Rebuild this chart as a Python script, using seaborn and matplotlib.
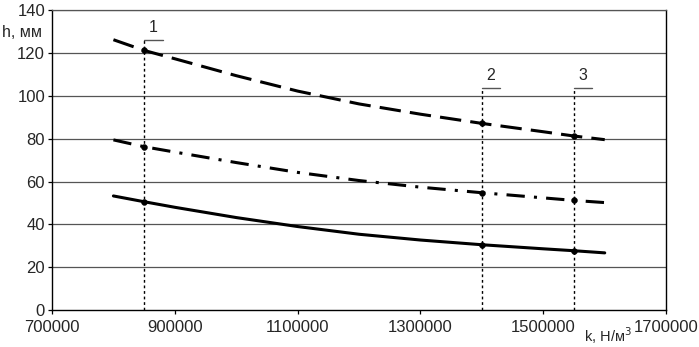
import numpy as np
import pandas as pd
import seaborn as sns
import matplotlib.pyplot as plt

# values
k = [800000, 850000, 900000, 1000000, 1100000, 1200000, 1300000, 1400000, 1500000, 1550000, 1600000]
h_dashed = [126.3, 121.3, 117.4, 109.5, 102.3, 96.3, 91.5, 87.2, 83.3, 81.3, 79.6]
h_dashdot = [79.5, 76.3, 73.8, 68.9, 64.3, 60.5, 57.4, 54.8, 52.4, 51.2, 50.2]
h_solid = [53.3, 50.6, 48.0, 43.2, 39.0, 35.4, 32.7, 30.5, 28.6, 27.7, 26.7]

k_marks = [850000, 1400000, 1550000]
mark_labels = ["1", "2", "3"]
bracket_top = [126, 103.6, 103.6]

x_ticks = [700000, 900000, 1100000, 1300000, 1500000, 1700000]
y_ticks = [0, 20, 40, 60, 80, 100, 120, 140]

sns.set_style("white")
plt.rcParams['font.family'] = ['Liberation Sans', 'DejaVu Sans']
fs = 12

df = pd.DataFrame({'k': k, 'dashed': h_dashed, 'dashdot': h_dashdot, 'solid': h_solid})

fig = plt.figure(figsize=(6.99, 3.47), dpi=100)
ax = fig.add_axes([0.0744, 0.1066, 0.8786, 0.8634])

# horizontal grid
for y in y_ticks[1:]:
    ax.axhline(y, color='#555555', lw=0.9, zorder=1)

sns.lineplot(data=df, x='k', y='dashed', ax=ax, color='black', lw=2.2, zorder=3)
ax.lines[-1].set_dashes([7, 3])
sns.lineplot(data=df, x='k', y='dashdot', ax=ax, color='black', lw=2.2, zorder=3)
ax.lines[-1].set_dashes([6, 3, 1, 3])
sns.lineplot(data=df, x='k', y='solid', ax=ax, color='black', lw=2.2, zorder=3)

# points at the marked k values
pts = df[df['k'].isin(k_marks)].melt(id_vars='k', value_name='h')
sns.scatterplot(data=pts, x='k', y='h', ax=ax, color='black', s=18, zorder=4,
                edgecolor='black', legend=False)

# dotted verticals with numbered brackets
for xm, lab, top in zip(k_marks, mark_labels, bracket_top):
    ax.plot([xm, xm], [0, top], color='black', lw=1.0, ls=(0, (2, 2)), zorder=2)
    ax.plot([xm, xm + 30000], [top, top], color='#555555', lw=1.0, zorder=2)
    ax.text(xm + 15000, top + 2.5, lab, ha='center', va='bottom', fontsize=fs - 0.5)

ax.set_xlim(700000, 1700000)
ax.set_ylim(0, 140)
ax.set_xticks(x_ticks)
ax.set_yticks(y_ticks)
ax.set_xticklabels([str(v) for v in x_ticks])
ax.tick_params(axis='both', labelsize=fs, length=3, width=0.9, color='black',
               direction='out', pad=2)
ax.tick_params(axis='x', bottom=True, pad=4)
ax.tick_params(axis='y', left=True)
ax.set_xlabel('')
ax.set_ylabel('')

for side in ['left', 'bottom', 'right']:
    ax.spines[side].set_color('black')
    ax.spines[side].set_linewidth(1.0)
ax.spines['top'].set_color('#555555')
ax.spines['top'].set_linewidth(0.9)

fig.text(0.003, 0.905, 'h, мм', fontsize=fs - 0.5, ha='left', va='center')
fig.text(0.836, 0.033, 'k, Н/м$^3$', fontsize=10.5, ha='left', va='center')

fig.savefig('out.png', dpi=100)
